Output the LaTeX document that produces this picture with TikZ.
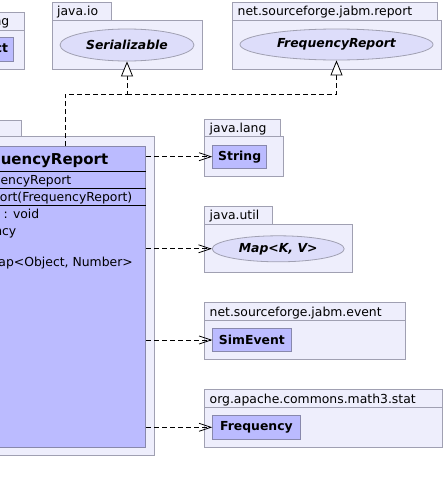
\documentclass[tikz,border=0pt]{standalone}
\usepackage{fontspec}
\setmainfont{DejaVu Sans}
\usetikzlibrary{arrows.meta}
\usetikzlibrary{shapes.geometric}

\definecolor{pkgfill}{RGB}{238,238,252}
\definecolor{pkgline}{RGB}{160,160,178}
\definecolor{classfill}{RGB}{187,187,255}
\definecolor{classline}{RGB}{136,136,172}
\definecolor{ifacefill}{RGB}{221,221,250}

\begin{document}
\begin{tikzpicture}[
        x=1pt, y=-1pt,
        font=\fontsize{12.4}{14}\selectfont,
        pkg/.style={draw=pkgline, fill=pkgfill, line width=0.8pt},
        pkglabel/.style={anchor=base west, inner sep=0pt},
        classbox/.style={draw=classline, fill=classfill, line width=0.8pt, inner xsep=5.5pt, minimum height=23.5pt, font=\fontsize{12.4}{14}\selectfont\bfseries},
        iface/.style={ellipse, draw=pkgline, fill=ifacefill, line width=0.8pt, inner sep=0pt, font=\fontsize{12.4}{14}\selectfont\bfseries\itshape},
        member/.style={anchor=base east, inner sep=0pt},
        depend/.style={-{Straight Barb[length=12pt, width=8pt]}, dash pattern=on 5pt off 3pt, line width=0.8pt},
        realize/.style={-{Triangle[open, length=15pt, width=12pt, fill=white]}, dash pattern=on 5pt off 3pt, line width=0.8pt}
    ]
        \useasboundingbox (0,0) rectangle (445,493);

        % --- Paquetes de arriba ---
        % java.lang (cortado a la izquierda)
        \draw[pkg] (-100,12) rectangle (24.3,30);
        \draw[pkg] (-100,30) rectangle (24.3,69);
        \node[pkglabel, anchor=base east] at (9.5,25.5) {java.lang};
        \node[classbox, anchor=east] (object) at (14,49.5) {Object};

        % java.io
        \draw[pkg] (52,2.5) rectangle (111,20);
        \draw[pkg] (52,20) rectangle (202,69);
        \node[pkglabel] at (57,15.8) {java.io};
        \node[iface, minimum width=134pt, minimum height=32pt] (serializable) at (127,45) {Serializable};

        % net.sourceforge.jabm.report
        \draw[pkg] (232,2.5) rectangle (437.3,20);
        \draw[pkg] (232,20) rectangle (441,69);
        \node[pkglabel] at (237.5,15.8) {net.sourceforge.jabm.report};
        \node[iface, minimum width=193pt, minimum height=31pt] (freqreport) at (336.5,44.5) {FrequencyReport};

        % --- Paquete de la clase principal ---
        \draw[pkg] (-100,120) rectangle (21,136);
        \draw[pkg] (-150,136) rectangle (154,455);
        \node[classbox, anchor=north east, minimum width=286pt, minimum height=301pt] (report) at (146,146) {};
        % Separadores de los compartimentos
        \draw[line width=0.8pt] (-140,171.7) -- (report.east |- 0,171.7);
        \draw[line width=0.8pt] (-140,188.7) -- (report.east |- 0,188.7);
        \draw[line width=0.8pt] (-140,205.7) -- (report.east |- 0,205.7);
        \node[member, font=\fontsize{15}{18}\selectfont\bfseries] at (108.5,164) {FrequencyReport};
        \node[member] at (71.5,184.5) {FrequencyReport};
        \node[member] at (132.5,201.5) {FrequencyReport(FrequencyReport)};
        \node[member] at (39.5,218.5) {() : void};
        \node[member] at (16.5,235) {Frequency};
        \node[member] at (133,266.5) {Map<Object, Number>};

        % --- Paquetes de la derecha ---
        % java.lang
        \draw[pkg] (204.3,119) rectangle (280,136);
        \draw[pkg] (204.3,136) rectangle (283.3,176);
        \node[pkglabel] at (209.5,132.5) {java.lang};
        \node[classbox, anchor=west, minimum width=53.4pt] (string) at (212.3,156.7) {String};

        % java.util
        \draw[pkg] (204.3,206) rectangle (272.3,224.3);
        \draw[pkg] (204.3,224.3) rectangle (352.7,272.3);
        \node[pkglabel] at (209.5,219.5) {java.util};
        \node[iface, minimum width=132pt, minimum height=26pt] (map) at (278.2,248.8) {Map<K, V>};

        % net.sourceforge.jabm.event
        \draw[pkg] (204.3,302.3) rectangle (405.7,320.7);
        \draw[pkg] (204.3,320.7) rectangle (405.7,359.3);
        \node[pkglabel] at (209.5,316.3) {net.sourceforge.jabm.event};
        \node[classbox, anchor=west, minimum width=78.4pt] (simevent) at (212.3,340) {SimEvent};

        % org.apache.commons.math3.stat
        \draw[pkg] (204.3,389.3) rectangle (442.7,407.3);
        \draw[pkg] (204.3,407.3) rectangle (442.7,447.3);
        \node[pkglabel] at (209.5,403) {org.apache.commons.math3.stat};
        \node[classbox, anchor=west, minimum width=87.4pt] (frequency) at (212.3,427.3) {Frequency};

        % --- Realizaciones ---
        \coordinate (fork) at (65,94);
        \draw[realize] (report.north -| fork) -- (fork) -| (serializable.south);
        \draw[realize] (serializable.south |- fork) -| (freqreport.south);

        % --- Dependencias ---
        \draw[depend] (report.east |- string.west) -- (string.west);
        \draw[depend] (report.east |- map.west) -- (map.west);
        \draw[depend] (report.east |- simevent.west) -- (simevent.west);
        \draw[depend] (report.east |- frequency.west) -- (frequency.west);

    \end{tikzpicture}
\end{document}
